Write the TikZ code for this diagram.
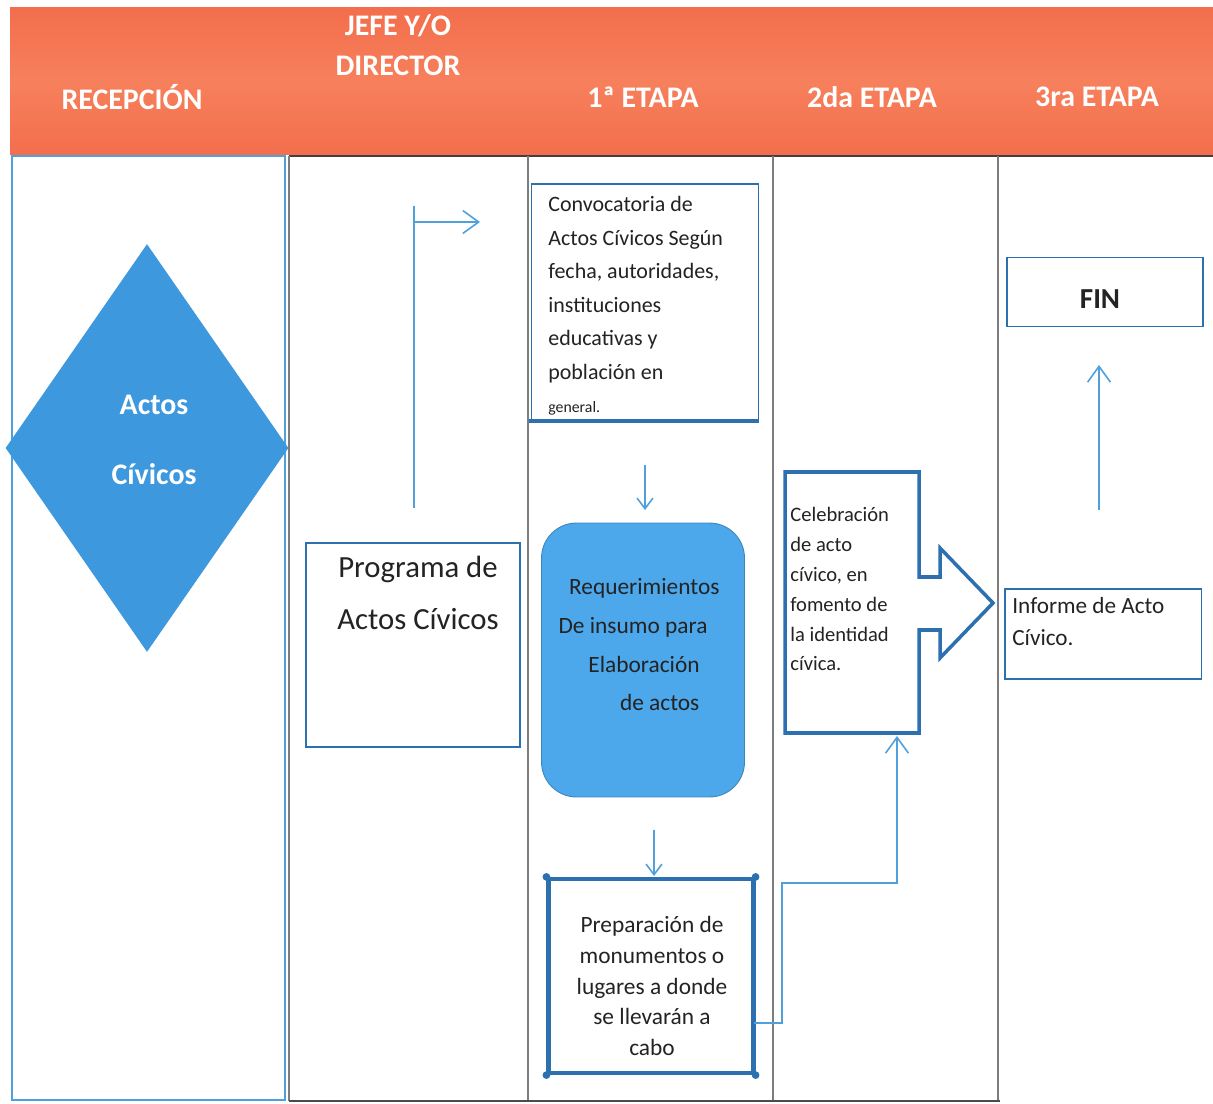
\documentclass[tikz,border=0pt]{standalone}
\usepackage{fontspec}
\setmainfont{Carlito}
\usetikzlibrary{arrows.meta,shapes.geometric}
\definecolor{hdr}{RGB}{243,110,76}
\definecolor{hdrlight}{RGB}{247,128,92}
\definecolor{lnblue}{RGB}{80,160,220}
\definecolor{bxblue}{RGB}{44,112,176}
\definecolor{dfill}{RGB}{62,152,222}
\definecolor{rfill}{RGB}{76,168,234}
\definecolor{lanegray}{RGB}{125,125,125}
\definecolor{txt}{RGB}{35,35,35}
\tikzset{
  hdrtext/.style={text=white, font=\bfseries\fontsize{17}{20}\selectfont, anchor=center},
  laneline/.style={draw=lanegray, line width=0.6pt},
  conn/.style={draw=lnblue, line width=0.9pt},
  barb/.style={-{Straight Barb[length=9pt,width=13pt,line width=0.9pt]}},
  smallbarb/.style={-{Straight Barb[length=6pt,width=9pt,line width=0.9pt]}},
  thinbox/.style={draw=bxblue, line width=1.1pt, fill=white, inner sep=0pt},
}
\begin{document}
\begin{tikzpicture}[x=0.02cm,y=-0.02cm]
\useasboundingbox (0,0) rectangle (1213,1104);
\fill[white] (0,0) rectangle (1213,1104);
% header band
\shade[top color=hdr, bottom color=hdr, middle color=hdrlight] (10,8) rectangle (1213,155);
\node[hdrtext] (hrec) at (132,97) {RECEPCIÓN};
\node[hdrtext] (hjefe) at (398,26) {JEFE Y/O};
\node[hdrtext] (hdir) at (398,66) {DIRECTOR};
\node[hdrtext] (h1) at (643,97) {1ª ETAPA};
\node[hdrtext] (h2) at (872,97) {2da ETAPA};
\node[hdrtext] (h3) at (1097,97) {3ra ETAPA};
% lanes
\draw[draw=black!75, line width=1.2pt] (289,156) -- (1213,156);
\draw[laneline] (289,156) -- (289,1101);
\draw[laneline] (528,156) -- (528,1101);
\draw[laneline] (773,156) -- (773,1101);
\draw[laneline] (998,156) -- (998,1101);
\draw[draw=black!70, line width=0.8pt] (289,1101) -- (1000,1101);
\draw[draw=lnblue, line width=1.2pt] (12,156) rectangle (285,1100);
% diamond
\node[diamond, fill=dfill, minimum width=5.66cm, minimum height=8.16cm, inner sep=0pt] (actos) at (147,448) {};
\node[text=white, font=\bfseries\fontsize{17}{40}\selectfont, align=center] (actostxt) at (154,440) {Actos\\Cívicos};
% director lane
\node[thinbox, minimum width=4.28cm, minimum height=4.08cm] (prog) at (413,645) {};
\node[font=\fontsize{17.5}{29.5}\selectfont, text=txt, align=center] (progtxt) at (418,593) {Programa de\\Actos Cívicos};
\coordinate (p0) at (414,508);
\coordinate (p1) at (414,206);
\coordinate (p2) at (414,222);
\coordinate (p3) at (480,222);
\draw[conn] (p0) -- (p1);
\draw[conn, barb] (p2) -- (p3);
% 1a etapa
\node[thinbox, minimum width=4.54cm, minimum height=4.72cm] (conv) at (645,302) {};
\node[anchor=north west, inner sep=0pt, align=left, font=\fontsize{12.5}{19.1}\selectfont, text=txt] (convtxt) at (548,196)
  {Convocatoria de\\Actos Cívicos Según\\fecha, autoridades,\\instituciones\\educativas y\\población en\\{\fontsize{9}{10}\selectfont general.}};
\draw[draw=bxblue, line width=2pt] ([xshift=-0.04cm]conv.south west) -- (conv.south east);
\coordinate (c1) at (645,465);
\coordinate (c2) at (645,510);
\draw[conn, smallbarb] (c1) -- (c2);
\node[fill=rfill, draw=rfill!80!black, line width=0.5pt, rounded corners=0.7cm,
      minimum width=4.06cm, minimum height=5.48cm] (req) at (643,660) {};
\node[font=\fontsize{13.3}{22}\selectfont, text=txt, align=left] (reqtxt) at (639,645)
  {\hspace*{6pt}Requerimientos\\De insumo para\\\hspace*{17pt}Elaboración\\\hspace*{35pt}de actos};
\coordinate (r1) at (654,830);
\coordinate (r2) at (654,876);
\draw[conn, smallbarb] (r1) -- (r2);
\node[draw=bxblue, line width=2.4pt, fill=white, minimum width=4.1cm, minimum height=3.88cm] (prep) at (651,976) {};
\node[font=\fontsize{13.3}{17.6}\selectfont, text=txt, align=center] (preptxt) at (652,986)
  {Preparación de\\monumentos o\\lugares a donde\\se llevarán a\\cabo};
\foreach \cc in {north west, north east, south west, south east}
  \fill[bxblue] (prep.\cc) circle (2.2pt);
% 2da etapa
\draw[draw=bxblue, line width=2pt, line join=miter]
  (785,472) -- (919,472) -- (919,577) -- (940,577) -- (940,548) -- (993,603)
  -- (940,658) -- (940,630) -- (919,630) -- (919,733) -- (785,733) -- cycle;
\node[anchor=north west, font=\fontsize{11.7}{17}\selectfont, text=txt, align=left, inner sep=0pt] (cel) at (790,507)
  {Celebración\\de acto\\cívico, en\\fomento de\\la identidad\\cívica.};
\coordinate (celb) at (897,736);
\coordinate (k1) at (754,1023);
\coordinate (k2) at (782,1023);
\coordinate (k3) at (782,883);
\coordinate (k4) at (897,883);
\draw[conn, barb] (k1) -- (k2) -- (k3) -- (k4) -- (celb);
% 3ra etapa
\node[thinbox, minimum width=3.94cm, minimum height=1.8cm] (inf) at (1103,634) {};
\node[anchor=north west, font=\fontsize{13.2}{18}\selectfont, text=txt, align=left, inner sep=0pt] (inftxt) at (1012,597)
  {Informe de Acto\\Cívico.};
\coordinate (f1) at (1099,510);
\coordinate (f2) at (1099,365);
\draw[conn, barb] (f1) -- (f2);
\node[thinbox, minimum width=3.92cm, minimum height=1.38cm] (fin) at (1105,292) {};
\node[font=\bfseries\fontsize{16.5}{18}\selectfont, text=txt] (fintxt) at (1100,299) {FIN};
\end{tikzpicture}
\end{document}
